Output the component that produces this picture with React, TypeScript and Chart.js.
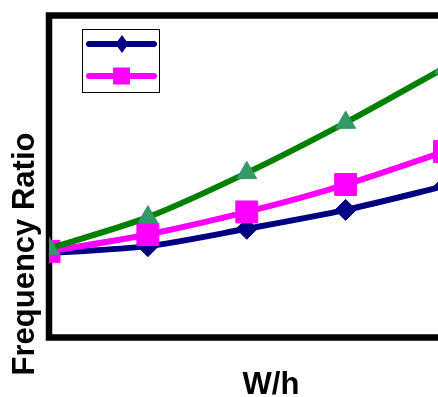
import { useEffect, useRef } from 'react';
import { Chart, registerables } from 'chart.js';

Chart.register(...registerables);

// W/h positions along the horizontal axis
const widthRatios = [1, 2, 3, 4, 5];
// frequency ratio of each series
const seriesNavy = [1.01, 1.027, 1.07, 1.117, 1.176];
const seriesMagenta = [1.014, 1.056, 1.112, 1.18, 1.262];
const seriesGreen = [1.021, 1.099, 1.209, 1.334, 1.47];

const xTitle = 'W/h';
const yTitle = 'Frequency Ratio';

const FONT = "'Liberation Sans', Arial, sans-serif";

const toPoints = (ys: number[]) => ys.map((y, i) => ({ x: widthRatios[i], y }));

// thick black frame around the plotting area, drawn under the data
const framePlugin = {
  id: 'frame',
  beforeDatasetsDraw(chart: Chart) {
    const { ctx, chartArea } = chart;
    ctx.save();
    ctx.strokeStyle = '#000';
    ctx.lineWidth = 6.5;
    ctx.lineJoin = 'miter';
    ctx.strokeRect(chartArea.left, chartArea.top, chartArea.right - chartArea.left, chartArea.bottom - chartArea.top);
    ctx.restore();
  },
};

// axis titles and the small boxed legend
const decorPlugin = {
  id: 'decor',
  afterDraw(chart: Chart) {
    const { ctx } = chart;
    ctx.save();
    ctx.fillStyle = '#000';
    ctx.font = `bold 31px ${FONT}`;
    ctx.textAlign = 'center';
    ctx.textBaseline = 'alphabetic';
    ctx.fillText(xTitle, 271, 394);

    ctx.save();
    ctx.translate(34, 254);
    ctx.rotate(-Math.PI / 2);
    ctx.fillText(yTitle, 0, 0);
    ctx.restore();

    // legend box
    ctx.strokeStyle = '#000';
    ctx.lineWidth = 1;
    ctx.strokeRect(82.5, 29.5, 77, 63);

    const ds = chart.data.datasets as any[];
    const rows = [
      { d: ds[0], y: 44 },
      { d: ds[1], y: 76 },
    ];
    for (const { d, y } of rows) {
      ctx.strokeStyle = d.borderColor;
      ctx.lineWidth = 6;
      ctx.lineCap = 'round';
      ctx.beginPath();
      ctx.moveTo(89, y);
      ctx.lineTo(154, y);
      ctx.stroke();
      ctx.fillStyle = d.pointBackgroundColor;
      ctx.beginPath();
      if (d.pointStyle === 'rectRot') {
        ctx.moveTo(122, y - 9);
        ctx.lineTo(128.5, y);
        ctx.lineTo(122, y + 9);
        ctx.lineTo(115.5, y);
        ctx.closePath();
      } else {
        ctx.rect(113, y - 8.5, 17, 17);
      }
      ctx.fill();
    }
    ctx.restore();
  },
};

export default function App() {
  const canvasRef = useRef<HTMLCanvasElement>(null);

  useEffect(() => {
    document.body.style.margin = '0';
    const canvas = canvasRef.current;
    if (!canvas) return;
    const chart = new Chart(canvas, {
      type: 'line',
      data: {
        datasets: [
          {
            label: '',
            data: toPoints(seriesNavy),
            borderColor: '#000080',
            backgroundColor: '#000080',
            pointBackgroundColor: '#000080',
            pointBorderColor: '#000080',
            pointStyle: 'rectRot',
            pointRadius: 10.5,
            pointBorderWidth: 1,
            borderWidth: 6,
            tension: 0.3,
            order: 3,
          },
          {
            label: '',
            data: toPoints(seriesMagenta),
            borderColor: '#ff00ff',
            backgroundColor: '#ff00ff',
            pointBackgroundColor: '#ff00ff',
            pointBorderColor: '#ff00ff',
            pointStyle: 'rect',
            pointRadius: 15.5,
            pointBorderWidth: 1,
            borderWidth: 6,
            tension: 0.3,
            order: 2,
          },
          {
            label: '',
            data: toPoints(seriesGreen),
            borderColor: '#008000',
            backgroundColor: '#339966',
            pointBackgroundColor: '#339966',
            pointBorderColor: '#339966',
            pointStyle: 'triangle',
            pointRadius: 11.5,
            pointBorderWidth: 1,
            borderWidth: 6,
            tension: 0.3,
            order: 1,
          },
        ],
      },
      options: {
        animation: false,
        responsive: false,
        maintainAspectRatio: false,
        layout: { autoPadding: false, padding: { left: 49, top: 15.5, right: 6, bottom: 59.5 } },
        plugins: { legend: { display: false }, tooltip: { enabled: false } },
        scales: {
          x: { type: 'linear', min: 1, max: 5.5, display: false },
          y: { type: 'linear', min: 0.8, max: 1.6, display: false },
        },
      },
      plugins: [framePlugin, decorPlugin],
    });
    return () => chart.destroy();
  }, []);

  return (
    <div style={{ width: 438, height: 397, overflow: 'hidden', position: 'relative' }}>
      <canvas ref={canvasRef} width={500} height={397} style={{ display: 'block' }} />
    </div>
  );
}
